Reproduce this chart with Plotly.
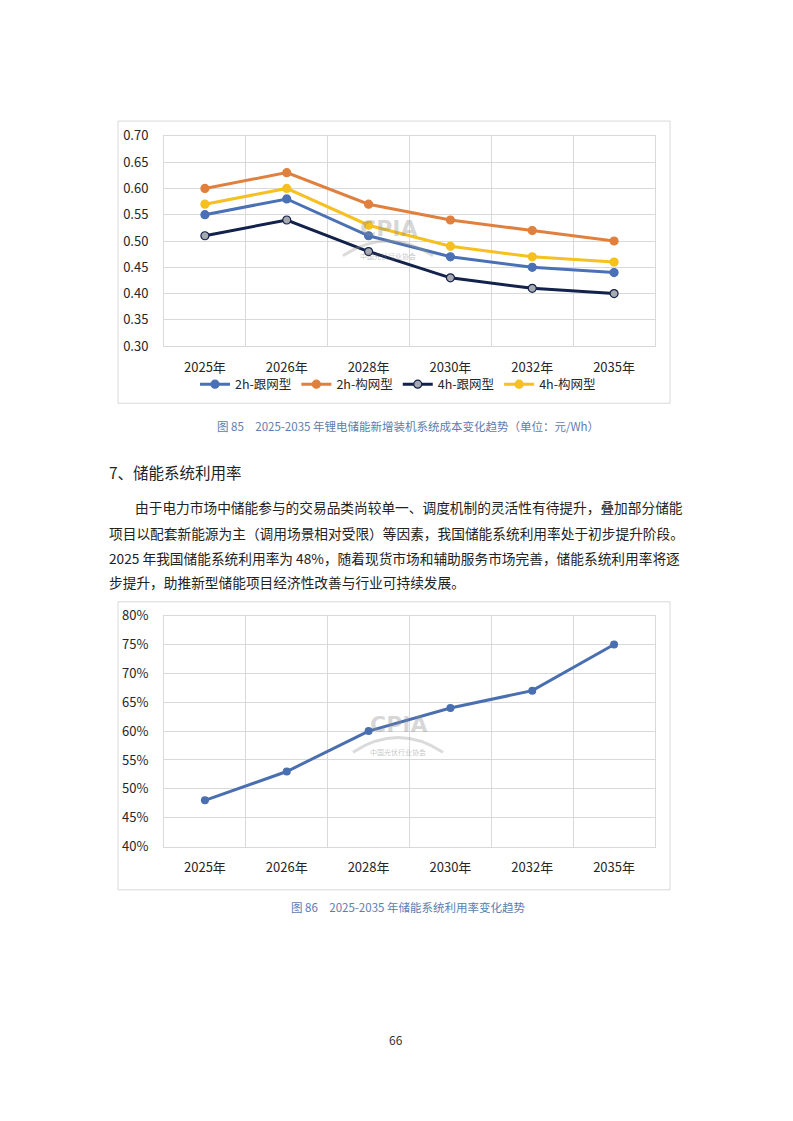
import plotly.graph_objects as go

W, H = 793, 1121


def px(x):
    return x / W


def py(y):
    return 1 - y / H


# ---------------- data ----------------
years = ["2025年", "2026年", "2028年", "2030年", "2032年", "2035年"]
series_names = ["2h-跟网型", "2h-构网型", "4h-跟网型", "4h-构网型"]
cost_2h_follow = [0.55, 0.58, 0.51, 0.47, 0.45, 0.44]
cost_2h_form = [0.60, 0.63, 0.57, 0.54, 0.52, 0.50]
cost_4h_follow = [0.51, 0.54, 0.48, 0.43, 0.41, 0.40]
cost_4h_form = [0.57, 0.60, 0.53, 0.49, 0.47, 0.46]
cost_ticks = [0.30, 0.35, 0.40, 0.45, 0.50, 0.55, 0.60, 0.65, 0.70]

util_rate = [0.48, 0.53, 0.60, 0.64, 0.67, 0.75]
util_ticks = [0.40, 0.45, 0.50, 0.55, 0.60, 0.65, 0.70, 0.75, 0.80]

caption1 = "图 85　2025-2035 年锂电储能新增装机系统成本变化趋势（单位：元/Wh）"
caption2 = "图 86　2025-2035 年储能系统利用率变化趋势"
heading = "7、储能系统利用率"
para_lines = [
    "由于电力市场中储能参与的交易品类尚较单一、调度机制的灵活性有待提升，叠加部分储能",
    "项目以配套新能源为主（调用场景相对受限）等因素，我国储能系统利用率处于初步提升阶段。",
    "2025 年我国储能系统利用率为 48%，随着现货市场和辅助服务市场完善，储能系统利用率将逐",
    "步提升，助推新型储能项目经济性改善与行业可持续发展。",
]
page_no = "66"

# ---------------- styles ----------------
FONT = "Noto Sans CJK SC"
GRID = "#D9D9D9"
TICK = "#262626"
CAP = "#5B7DB0"
line_colors = ["#4A70B5", "#E0803E", "#13224A", "#F5C020"]
marker_fill = ["#4A70B5", "#E0803E", "#A6A9B0", "#F5C020"]

fig = go.Figure()

cost_series = [cost_2h_follow, cost_2h_form, cost_4h_follow, cost_4h_form]
for name, vals, lc, mf in zip(series_names, cost_series, line_colors, marker_fill):
    fig.add_trace(go.Scatter(
        x=years, y=vals, name=name, mode="lines+markers",
        line=dict(color=lc, width=3),
        marker=dict(size=8, color=mf, line=dict(color=lc, width=1.2)),
        xaxis="x", yaxis="y",
    ))

fig.add_trace(go.Scatter(
    x=years, y=util_rate, mode="lines+markers", showlegend=False,
    line=dict(color="#4A6FB0", width=3),
    marker=dict(size=8, color="#4A6FB0"),
    xaxis="x2", yaxis="y2",
))

xcommon = dict(
    type="category", categoryorder="array", categoryarray=years,
    range=[-0.5, 5.5], tickson="boundaries", showgrid=True, gridcolor=GRID,
    gridwidth=1, showline=True, linecolor=GRID, linewidth=1, mirror=True,
    ticks="", tickfont=dict(family=FONT, size=13, color=TICK),
    ticklabelstandoff=9, zeroline=False,
)
ycommon = dict(
    showgrid=True, gridcolor=GRID, gridwidth=1, showline=True, linecolor=GRID,
    linewidth=1, mirror=True, ticks="", zeroline=False,
    tickfont=dict(family=FONT, size=13, color=TICK), ticklabelstandoff=12,
)

fig.update_layout(
    width=W, height=H, margin=dict(l=0, r=0, t=0, b=0),
    paper_bgcolor="white", plot_bgcolor="white",
    font=dict(family=FONT, color=TICK),
    xaxis=dict(domain=[px(164), px(655)], anchor="y", **xcommon),
    yaxis=dict(domain=[py(342), py(128)], anchor="x", range=[0.30, 0.70],
               tickvals=cost_ticks, tickformat=".2f", **ycommon),
    xaxis2=dict(domain=[px(164), px(655)], anchor="y2", **xcommon),
    yaxis2=dict(domain=[py(851), py(616)], anchor="x2", range=[0.40, 0.80],
                tickvals=util_ticks, tickformat=".0%", **ycommon),
    legend=dict(orientation="h", x=px(398), xanchor="center", y=py(381),
                yanchor="middle", font=dict(family=FONT, size=12.5, color=TICK),
                itemwidth=30, tracegroupgap=0, bgcolor="rgba(0,0,0,0)"),
    showlegend=True,
)

shapes = []
for (y0, y1) in [(113, 400), (602, 895)]:
    shapes.append(dict(type="rect", xref="paper", yref="paper",
                       x0=px(118), x1=px(670), y0=py(y1), y1=py(y0),
                       line=dict(color=GRID, width=1), fillcolor="rgba(0,0,0,0)",
                       layer="below"))

# faint watermark arcs
for cx, cy in [(388, 242), (398, 747)]:
    path = "M {:.4f} {:.4f} Q {:.4f} {:.4f} {:.4f} {:.4f}".format(
        px(cx - 45), py(cy + 8), px(cx), py(cy - 22), px(cx + 45), py(cy + 8))
    shapes.append(dict(type="path", xref="paper", yref="paper", path=path,
                       line=dict(color="rgba(150,150,150,0.35)", width=3)))
fig.update_layout(shapes=shapes)

ann = []
for cx, cy in [(388, 222), (398, 727)]:
    ann.append(dict(x=px(cx), y=py(cy), xref="paper", yref="paper", text="<b>CPIA</b>",
                    showarrow=False, xanchor="center", yanchor="middle",
                    font=dict(family="DejaVu Sans", size=22, color="rgba(140,140,140,0.35)")))
    ann.append(dict(x=px(cx), y=py(cy + 28), xref="paper", yref="paper", text="中国光伏行业协会",
                    showarrow=False, xanchor="center", yanchor="middle",
                    font=dict(family=FONT, size=7, color="rgba(120,120,120,0.45)")))

ann.append(dict(x=px(408), y=py(423), xref="paper", yref="paper", text=caption1,
                showarrow=False, xanchor="center", yanchor="middle",
                font=dict(family=FONT, size=11.5, color=CAP)))
ann.append(dict(x=px(408), y=py(912), xref="paper", yref="paper", text=caption2,
                showarrow=False, xanchor="center", yanchor="middle",
                font=dict(family=FONT, size=11.5, color=CAP)))
ann.append(dict(x=px(107), y=py(470), xref="paper", yref="paper", text=heading,
                showarrow=False, xanchor="left", yanchor="middle",
                font=dict(family=FONT, size=15.5, color="#222222")))
para_y = [506, 532, 557, 582]
para_x = [133, 107, 107, 107]
for t, yy, xx in zip(para_lines, para_y, para_x):
    ann.append(dict(x=px(xx), y=py(yy), xref="paper", yref="paper", text=t,
                    showarrow=False, xanchor="left", yanchor="middle",
                    font=dict(family=FONT, size=13.7, color="#222222")))
ann.append(dict(x=px(396), y=py(1047), xref="paper", yref="paper", text=page_no,
                showarrow=False, xanchor="center", yanchor="middle",
                font=dict(family=FONT, size=12, color="#333333")))
fig.update_layout(annotations=ann)

fig.write_html("out.html", config={"displayModeBar": False},
               post_script="document.body.style.margin='0';")
